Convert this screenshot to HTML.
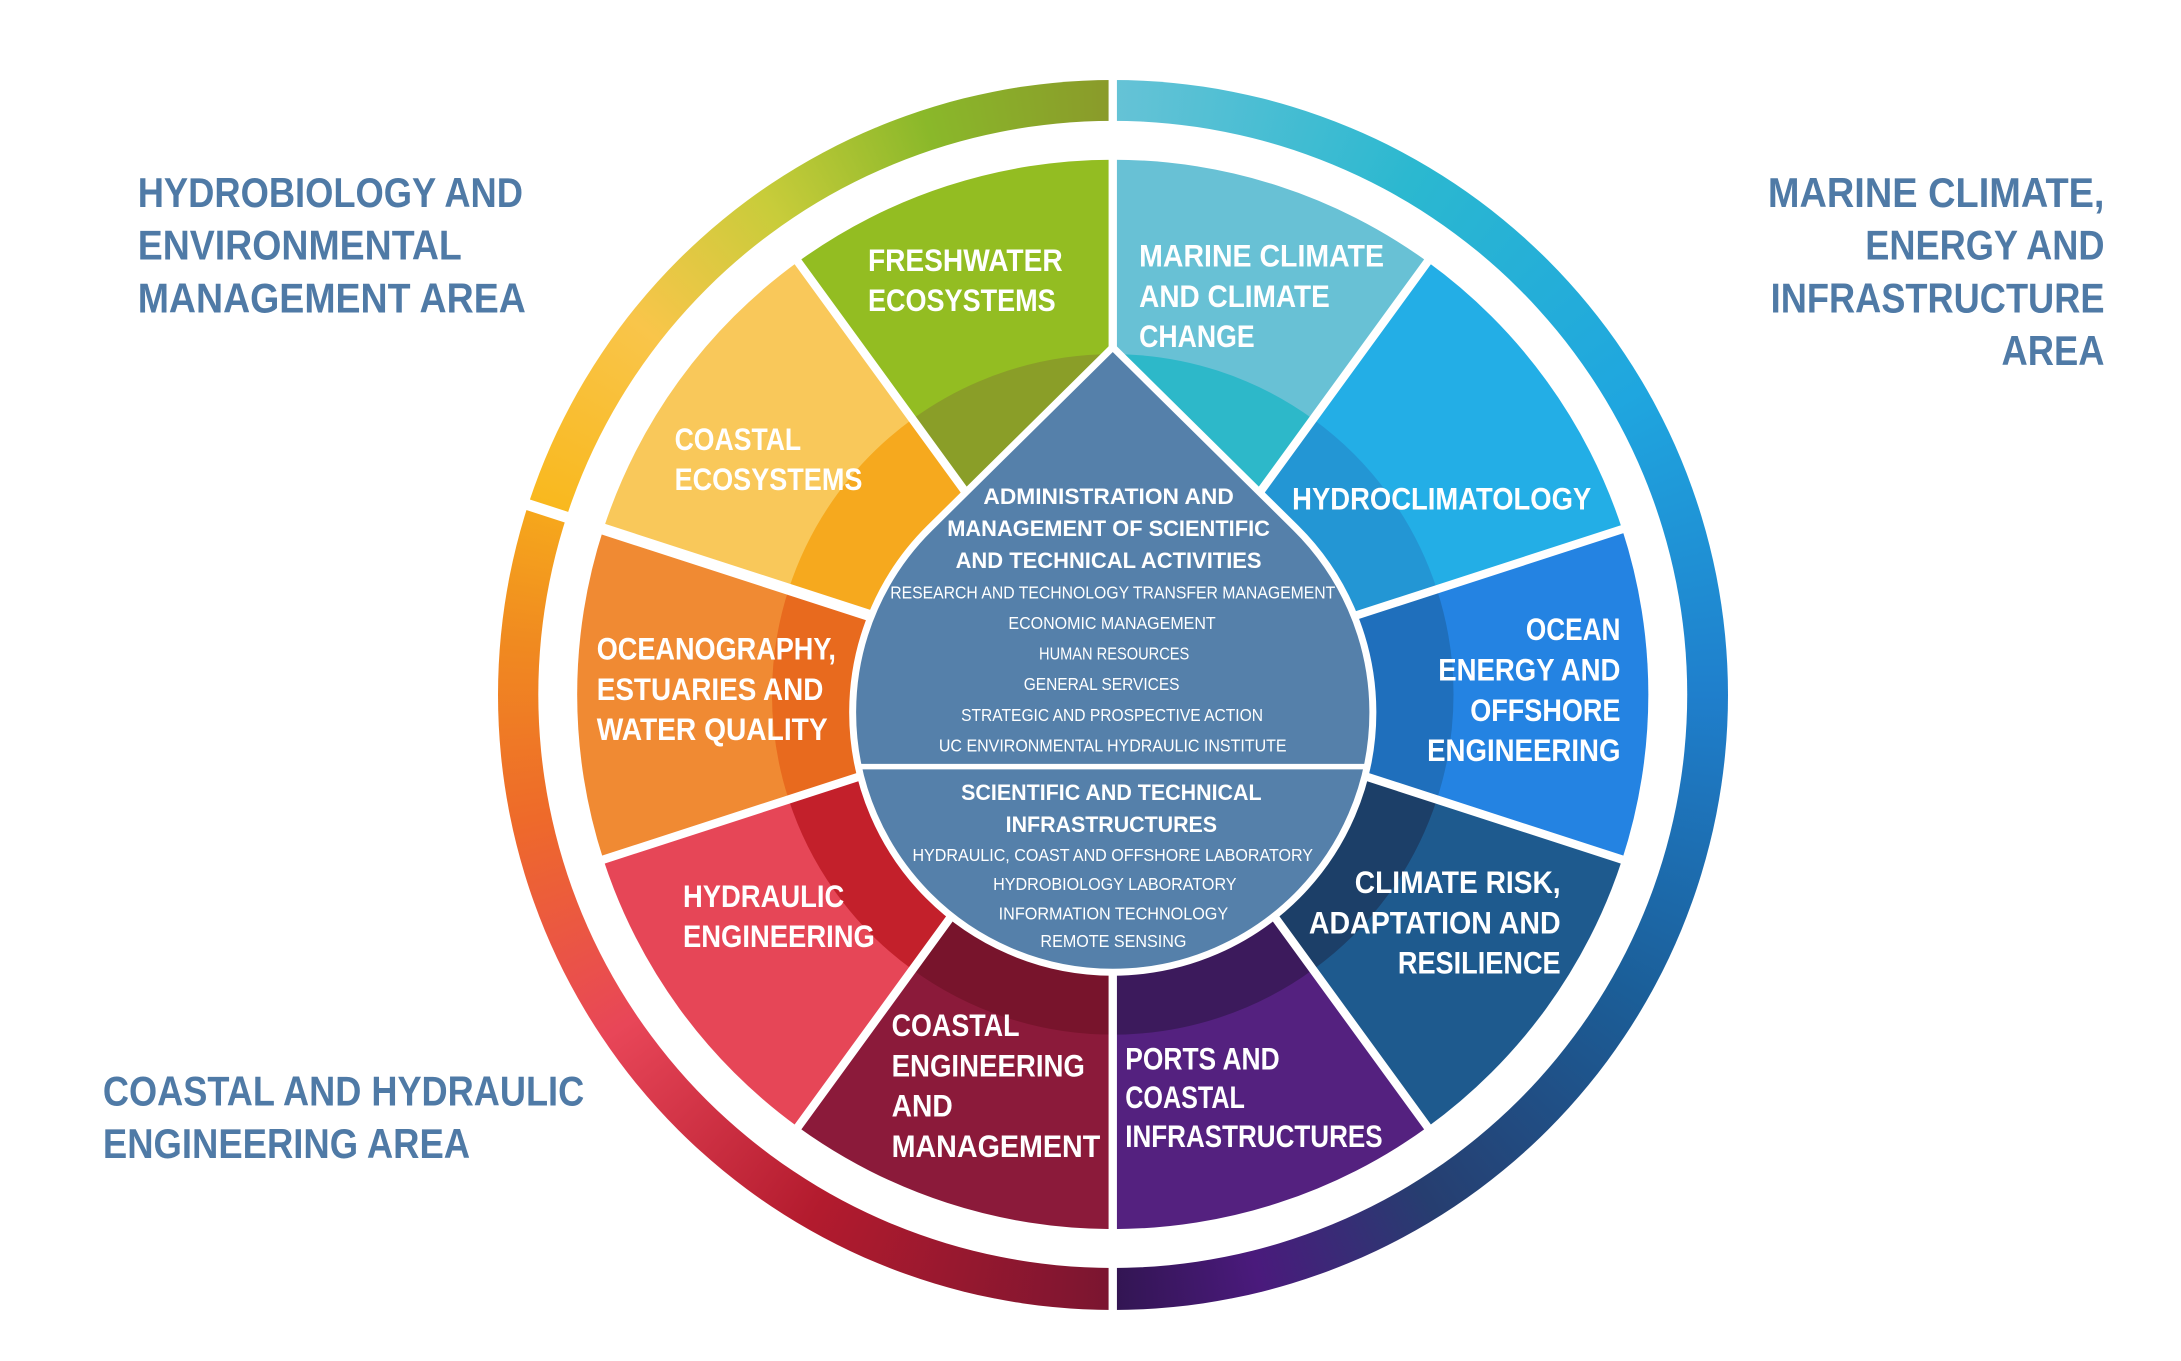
<!DOCTYPE html>
<html><head><meta charset="utf-8"><style>
html,body{margin:0;padding:0;background:#fff;width:2181px;height:1361px;overflow:hidden;position:relative}
#ring{position:absolute;left:498px;top:80px;width:1230px;height:1230px;border-radius:50%;
background:conic-gradient(from 0deg,#66c3d6 0deg,#2bb8d0 30deg,#1fa6df 60deg,#1f7fcc 90deg,#1b5e98 120deg,#263e70 148deg,#4a1a7c 166deg,#321552 180deg,#7a1530 180deg,#b31b2e 210deg,#e84658 236deg,#ee6a2a 258deg,#f08a20 275deg,#f6a81c 288deg,#f9b81d 288deg,#f9c54a 308deg,#c8cc3a 325deg,#8ab82a 342deg,#8a9a2a 360deg)}
svg{position:absolute;left:0;top:0}
text{font-family:"Liberation Sans Narrow","Liberation Sans",sans-serif;font-weight:bold;fill:#fff}
.a{fill:#4f7aa6;font-size:30px}
.w{font-size:23px}
.h{font-size:16px}
.s{font-size:12.5px;font-weight:normal}
</style></head><body>
<div id="ring"></div>
<svg width="2181" height="1361" viewBox="0 0 1568 980" preserveAspectRatio="none">
<circle cx="800" cy="500" r="413" fill="#fff"/>
<path d="M800,500 L800,115 A385,385 0 0 1 1026.3,188.5Z" fill="#68c1d5"/>
<path d="M800,500 L1026.3,188.5 A385,385 0 0 1 1166.2,381Z" fill="#23aee6"/>
<path d="M800,500 L1166.2,381 A385,385 0 0 1 1166.2,619Z" fill="#2483e2"/>
<path d="M800,500 L1166.2,619 A385,385 0 0 1 1026.3,811.5Z" fill="#1e5a8e"/>
<path d="M800,500 L1026.3,811.5 A385,385 0 0 1 800,885Z" fill="#54217f"/>
<path d="M800,500 L800,885 A385,385 0 0 1 573.7,811.5Z" fill="#8b1a3a"/>
<path d="M800,500 L573.7,811.5 A385,385 0 0 1 433.8,619Z" fill="#e64657"/>
<path d="M800,500 L433.8,619 A385,385 0 0 1 433.8,381Z" fill="#f08a33"/>
<path d="M800,500 L433.8,381 A385,385 0 0 1 573.7,188.5Z" fill="#f9c85a"/>
<path d="M800,500 L573.7,188.5 A385,385 0 0 1 800,115Z" fill="#93bd22"/>
<path d="M800,500 L800,255 A245,245 0 0 1 944,301.8Z" fill="#2db8c9"/>
<path d="M800,500 L944,301.8 A245,245 0 0 1 1033,424.3Z" fill="#2396d4"/>
<path d="M800,500 L1033,424.3 A245,245 0 0 1 1033,575.7Z" fill="#1f6fbc"/>
<path d="M800,500 L1033,575.7 A245,245 0 0 1 944,698.2Z" fill="#1c3f68"/>
<path d="M800,500 L944,698.2 A245,245 0 0 1 800,745Z" fill="#3c1a5c"/>
<path d="M800,500 L800,745 A245,245 0 0 1 656,698.2Z" fill="#78142c"/>
<path d="M800,500 L656,698.2 A245,245 0 0 1 567,575.7Z" fill="#c3202b"/>
<path d="M800,500 L567,575.7 A245,245 0 0 1 567,424.3Z" fill="#e86a1e"/>
<path d="M800,500 L567,424.3 A245,245 0 0 1 656,301.8Z" fill="#f6a91e"/>
<path d="M800,500 L656,301.8 A245,245 0 0 1 800,255Z" fill="#8a9e28"/>
<g stroke="#fff" stroke-width="6">
<line x1="800" y1="500" x2="800" y2="45"/>
<line x1="800" y1="500" x2="800" y2="955"/>
<line x1="800" y1="500" x2="370" y2="360.3" stroke-width="8"/>
<line x1="800" y1="500" x2="1029.3" y2="184.4"/>
<line x1="800" y1="500" x2="1171" y2="379.5"/>
<line x1="800" y1="500" x2="1171" y2="620.5"/>
<line x1="800" y1="500" x2="1029.3" y2="815.6"/>
<line x1="800" y1="500" x2="570.7" y2="815.6"/>
<line x1="800" y1="500" x2="429" y2="620.5"/>
<line x1="800" y1="500" x2="570.7" y2="184.4"/>
</g>
<path d="M800,250 L931.5,380.1 A187,187 0 1 1 668.5,380.1Z" fill="#5580aa" stroke="#fff" stroke-width="5"/>
<line x1="615" y1="552" x2="985" y2="552" stroke="#fff" stroke-width="4"/>
<text class="a" x="99" y="149" textLength="277" lengthAdjust="spacingAndGlyphs">HYDROBIOLOGY AND</text>
<text class="a" x="99" y="187" textLength="233" lengthAdjust="spacingAndGlyphs">ENVIRONMENTAL</text>
<text class="a" x="99" y="225" textLength="279" lengthAdjust="spacingAndGlyphs">MANAGEMENT AREA</text>
<text class="a" x="1271" y="149" textLength="242" lengthAdjust="spacingAndGlyphs">MARINE CLIMATE,</text>
<text class="a" x="1341" y="187" textLength="172" lengthAdjust="spacingAndGlyphs">ENERGY AND</text>
<text class="a" x="1273" y="225" textLength="240" lengthAdjust="spacingAndGlyphs">INFRASTRUCTURE</text>
<text class="a" x="1439" y="263" textLength="74" lengthAdjust="spacingAndGlyphs">AREA</text>
<text class="a" x="74" y="796" textLength="346" lengthAdjust="spacingAndGlyphs">COASTAL AND HYDRAULIC</text>
<text class="a" x="74" y="834" textLength="264" lengthAdjust="spacingAndGlyphs">ENGINEERING AREA</text>
<g class="w">
<text x="624" y="195" textLength="140" lengthAdjust="spacingAndGlyphs">FRESHWATER</text>
<text x="624" y="224" textLength="135" lengthAdjust="spacingAndGlyphs">ECOSYSTEMS</text>
<text x="819" y="192" textLength="176" lengthAdjust="spacingAndGlyphs">MARINE CLIMATE</text>
<text x="819" y="221" textLength="137" lengthAdjust="spacingAndGlyphs">AND CLIMATE</text>
<text x="819" y="250" textLength="83" lengthAdjust="spacingAndGlyphs">CHANGE</text>
<text x="485" y="324" textLength="91" lengthAdjust="spacingAndGlyphs">COASTAL</text>
<text x="485" y="353" textLength="135" lengthAdjust="spacingAndGlyphs">ECOSYSTEMS</text>
<text x="929" y="367" textLength="215" lengthAdjust="spacingAndGlyphs">HYDROCLIMATOLOGY</text>
<text x="429" y="475" textLength="172" lengthAdjust="spacingAndGlyphs">OCEANOGRAPHY,</text>
<text x="429" y="504" textLength="163" lengthAdjust="spacingAndGlyphs">ESTUARIES AND</text>
<text x="429" y="533" textLength="166" lengthAdjust="spacingAndGlyphs">WATER QUALITY</text>
<text x="1097" y="461" textLength="68" lengthAdjust="spacingAndGlyphs">OCEAN</text>
<text x="1034" y="490" textLength="131" lengthAdjust="spacingAndGlyphs">ENERGY AND</text>
<text x="1057" y="519" textLength="108" lengthAdjust="spacingAndGlyphs">OFFSHORE</text>
<text x="1026" y="548" textLength="139" lengthAdjust="spacingAndGlyphs">ENGINEERING</text>
<text x="491" y="653" textLength="116" lengthAdjust="spacingAndGlyphs">HYDRAULIC</text>
<text x="491" y="682" textLength="138" lengthAdjust="spacingAndGlyphs">ENGINEERING</text>
<text x="974" y="643" textLength="148" lengthAdjust="spacingAndGlyphs">CLIMATE RISK,</text>
<text x="941" y="672" textLength="181" lengthAdjust="spacingAndGlyphs">ADAPTATION AND</text>
<text x="1005" y="701" textLength="117" lengthAdjust="spacingAndGlyphs">RESILIENCE</text>
<text x="641" y="746" textLength="92" lengthAdjust="spacingAndGlyphs">COASTAL</text>
<text x="641" y="775" textLength="139" lengthAdjust="spacingAndGlyphs">ENGINEERING</text>
<text x="641" y="804" textLength="44" lengthAdjust="spacingAndGlyphs">AND</text>
<text x="641" y="833" textLength="150" lengthAdjust="spacingAndGlyphs">MANAGEMENT</text>
<text x="809" y="770" textLength="111" lengthAdjust="spacingAndGlyphs">PORTS AND</text>
<text x="809" y="798" textLength="86" lengthAdjust="spacingAndGlyphs">COASTAL</text>
<text x="809" y="826" textLength="185" lengthAdjust="spacingAndGlyphs">INFRASTRUCTURES</text>
</g>
<text class="h" x="707" y="363" textLength="180" lengthAdjust="spacingAndGlyphs">ADMINISTRATION AND</text>
<text class="h" x="681" y="386" textLength="232" lengthAdjust="spacingAndGlyphs">MANAGEMENT OF SCIENTIFIC</text>
<text class="h" x="687" y="409" textLength="220" lengthAdjust="spacingAndGlyphs">AND TECHNICAL ACTIVITIES</text>
<text class="s" x="640" y="431" textLength="320" lengthAdjust="spacingAndGlyphs">RESEARCH AND TECHNOLOGY TRANSFER MANAGEMENT</text>
<text class="s" x="725" y="453" textLength="149" lengthAdjust="spacingAndGlyphs">ECONOMIC MANAGEMENT</text>
<text class="s" x="747" y="475" textLength="108" lengthAdjust="spacingAndGlyphs">HUMAN RESOURCES</text>
<text class="s" x="736" y="497" textLength="112" lengthAdjust="spacingAndGlyphs">GENERAL SERVICES</text>
<text class="s" x="691" y="519" textLength="217" lengthAdjust="spacingAndGlyphs">STRATEGIC AND PROSPECTIVE ACTION</text>
<text class="s" x="675" y="541" textLength="250" lengthAdjust="spacingAndGlyphs">UC ENVIRONMENTAL HYDRAULIC INSTITUTE</text>
<text class="h" x="691" y="576" textLength="216" lengthAdjust="spacingAndGlyphs">SCIENTIFIC AND TECHNICAL</text>
<text class="h" x="723" y="599" textLength="152" lengthAdjust="spacingAndGlyphs">INFRASTRUCTURES</text>
<text class="s" x="656" y="620" textLength="288" lengthAdjust="spacingAndGlyphs">HYDRAULIC, COAST AND OFFSHORE LABORATORY</text>
<text class="s" x="714" y="641" textLength="175" lengthAdjust="spacingAndGlyphs">HYDROBIOLOGY LABORATORY</text>
<text class="s" x="718" y="662" textLength="165" lengthAdjust="spacingAndGlyphs">INFORMATION TECHNOLOGY</text>
<text class="s" x="748" y="682" textLength="105" lengthAdjust="spacingAndGlyphs">REMOTE SENSING</text>
</svg>
</body></html>
